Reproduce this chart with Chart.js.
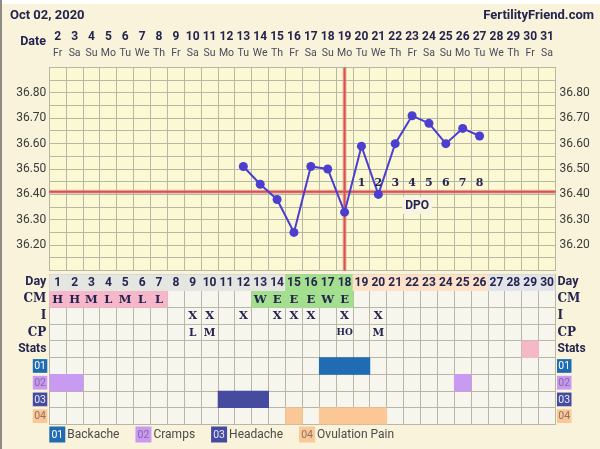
<!DOCTYPE html>
<html>
<head>
<meta charset="utf-8">
<script src="https://cdn.jsdelivr.net/npm/chart.js@4.4.1/dist/chart.umd.min.js"></script>
<style>
  html, body { margin: 0; padding: 0; background: #f8f3da; }
  #wrap { position: relative; width: 600px; height: 449px; overflow: hidden; background: #f8f3da; }
  #temp { position: absolute; left: 0; top: 0; }
  #table { position: absolute; left: 0; top: 274px; }
  #topstrip { position: absolute; left: 0; top: 0; width: 600px; height: 4px; background: #fff; }
  #leftedge { position: absolute; left: 0; top: 0; width: 2px; height: 449px; background: #8c8c84; }
</style>
</head>
<body>
<div id="wrap">
  <canvas id="temp" width="600" height="275"></canvas>
  <canvas id="table" width="600" height="175"></canvas>
  <div id="topstrip"></div>
  <div id="leftedge"></div>
</div>
<script>
// cycle days and the calendar header
const days = [1,2,3,4,5,6,7,8,9,10,11,12,13,14,15,16,17,18,19,20,21,22,23,24,25,26,27,28,29,30];
const dates = [2,3,4,5,6,7,8,9,10,11,12,13,14,15,16,17,18,19,20,21,22,23,24,25,26,27,28,29,30,31];
const weekdays = ['Fr','Sa','Su','Mo','Tu','We','Th','Fr','Sa','Su','Mo','Tu','We','Th','Fr',
                  'Sa','Su','Mo','Tu','We','Th','Fr','Sa','Su','Mo','Tu','We','Th','Fr','Sa'];

// BBT readings (null = no reading)
const temps = [null,null,null,null,null,null,null,null,null,null,null,
               36.51,36.44,36.38,36.25,36.51,36.50,36.33,36.59,36.40,36.60,36.71,36.68,36.60,36.66,36.63,
               null,null,null,null];
const tempLabels = [36.20, 36.30, 36.40, 36.50, 36.60, 36.70, 36.80];
const coverline = 36.41;
const ovulationDay = 18;
const dpoLabels = ['1','2','3','4','5','6','7','8'];

// table rows
const rowNames = ['Day','CM','I','CP','Stats','01','02','03','04'];
const fertileDays = [15,16,17,18];
const lutealDays = [19,20,21,22,23,24,25,26];
const futureDays = [27,28,29,30];
const cmCodes = ['H','H','M','L','M','L','L','','','','','','W','E','E','E','W','E','','','','','','','','','','','',''];
const intercourseDays = [9,10,12,14,15,16,18,20];
const cpDays = [9,10,18,20];
const cpCodes = ['L','M','HO','M'];
const statsDays = [29];
const symptomNames = ['Backache','Cramps','Headache','Ovulation Pain'];
const symptomDays = [[17,18,19],[1,2,25],[11,12,13],[15,17,18,19,20]];

const navy = '#24244f';
const gridCol = '#b9b7a4';
const symptomColors = ['#1f6cb3','#c99af2','#474b9f','#fcc797'];
const symptomText = ['#ffffff','#85689f','#e9e9ff','#8a7464'];

function colPx(scale, d) { return scale.getPixelForValue(days.indexOf(d)); }

const tempDecor = {
  id: 'tempDecor',
  beforeDraw(chart) {
    const {ctx, chartArea: a} = chart;
    ctx.save();
    ctx.fillStyle = '#fbf8d4';
    ctx.fillRect(a.left, a.top, a.right - a.left, a.bottom - a.top);
    ctx.restore();
  },
  beforeDatasetsDraw(chart) {
    const {ctx, chartArea: a, scales: {x, y}} = chart;
    const cy = y.getPixelForValue(coverline);
    const ox = colPx(x, ovulationDay);
    ctx.save();
    ctx.strokeStyle = 'rgba(226,140,140,0.6)';
    ctx.lineWidth = 4;
    ctx.beginPath();
    ctx.moveTo(a.left, cy); ctx.lineTo(a.right, cy);
    ctx.moveTo(ox, a.top); ctx.lineTo(ox, a.bottom);
    ctx.stroke();
    ctx.strokeStyle = '#d6534f';
    ctx.lineWidth = 2;
    ctx.beginPath();
    ctx.moveTo(a.left, cy); ctx.lineTo(a.right, cy);
    ctx.moveTo(ox, a.top); ctx.lineTo(ox, a.bottom);
    ctx.stroke();
    ctx.restore();
  },
  afterDraw(chart) {
    const {ctx, chartArea: a, scales: {x, y}} = chart;
    ctx.save();
    ctx.fillStyle = navy;
    ctx.textBaseline = 'middle';
    ctx.font = 'bold 13px Roboto';
    ctx.textAlign = 'left';
    ctx.fillText('Oct 02, 2020', 10, 16);
    ctx.textAlign = 'right';
    ctx.fillText('FertilityFriend.com', 594, 16);
    ctx.font = 'bold 12.5px Roboto';
    ctx.fillText('Date', 46, 42);

    ctx.textAlign = 'center';
    days.forEach((d, i) => {
      const px = colPx(x, d);
      ctx.fillStyle = navy;
      ctx.font = 'bold 12px Roboto';
      ctx.fillText(String(dates[i]), px, 37);
      ctx.fillStyle = '#4a4a5a';
      ctx.font = '10.5px Roboto';
      ctx.fillText(weekdays[i], px, 53.5);
    });

    // temperature labels on both sides
    ctx.font = '12px Roboto';
    ctx.fillStyle = '#3a3a3a';
    tempLabels.forEach(t => {
      const py = y.getPixelForValue(t);
      ctx.textAlign = 'right';
      ctx.fillText(t.toFixed(2), a.left - 3, py);
      ctx.textAlign = 'left';
      ctx.fillText(t.toFixed(2), a.right + 4, py);
    });

    // days past ovulation
    const cy = y.getPixelForValue(coverline);
    ctx.textAlign = 'center';
    ctx.fillStyle = navy;
    ctx.font = 'bold 11px "DejaVu Serif"';
    dpoLabels.forEach((lab, i) => {
      ctx.fillText(lab, colPx(x, ovulationDay + 1 + i), cy - 9);
    });
    const colW = colPx(x, 2) - colPx(x, 1);
    const dx = colPx(x, 22) + colW * 0.3;
    ctx.fillStyle = '#f7f4e2';
    ctx.fillRect(dx - 15, cy + 5, 30, 17);
    ctx.fillStyle = navy;
    ctx.font = 'bold 12px Roboto';
    ctx.fillText('DPO', dx, cy + 14);
    ctx.restore();
  }
};

new Chart(document.getElementById('temp'), {
  type: 'line',
  data: {
    labels: days,
    datasets: [{
      data: temps,
      borderColor: '#4c3fcf',
      backgroundColor: '#4c3fcf',
      borderWidth: 2,
      pointRadius: 4.5,
      pointBorderWidth: 0,
      tension: 0
    }]
  },
  options: {
    responsive: false,
    animation: false,
    layout: { padding: 0 },
    plugins: { legend: { display: false }, tooltip: { enabled: false } },
    scales: {
      x: {
        type: 'category', position: 'top', offset: true,
        grid: { offset: true, color: gridCol, drawTicks: false },
        border: { display: false },
        ticks: { display: false },
        afterFit: s => { s.height = 67.5; }
      },
      y: {
        min: 36.1, max: 36.9,
        ticks: { display: false, stepSize: 0.05 },
        grid: { color: gridCol, drawTicks: false },
        border: { color: gridCol },
        afterFit: s => { s.width = 49.3; }
      },
      y2: {
        position: 'right', min: 36.1, max: 36.9,
        ticks: { display: false },
        grid: { display: false },
        border: { color: gridCol },
        afterFit: s => { s.width = 44.5; }
      }
    }
  },
  plugins: [tempDecor]
});

// table cells as floating bars spanning one row each
function cells(dayList, row) { return dayList.map(d => ({ x: d, y: [row, row + 1] })); }
const phaseColor = d => fertileDays.includes(d) ? '#a4df8f' : lutealDays.includes(d) ? '#fde2c9' : futureDays.includes(d) ? '#e3e3ea' : '#e5e5e2';
const cmDays = days.filter((d, i) => cmCodes[i] !== '');

const tableDatasets = [
  { data: cells(days, 0), backgroundColor: days.map(phaseColor) },
  { data: cells(cmDays, 1), backgroundColor: cmDays.map(d => 'HML'.includes(cmCodes[d - 1]) ? '#f5b7c9' : '#a4df8f') },
  { data: cells(statsDays, 4), backgroundColor: '#f4b8c6' }
];
symptomDays.forEach((list, k) => {
  tableDatasets.push({ data: cells(list, 5 + k), backgroundColor: symptomColors[k] });
});

const tableDecor = {
  id: 'tableDecor',
  beforeDraw(chart) {
    const {ctx, chartArea: a} = chart;
    ctx.save();
    ctx.fillStyle = '#f6f5ee';
    ctx.fillRect(a.left, a.top, a.right - a.left, a.bottom - a.top);
    ctx.restore();
  },
  afterDraw(chart) {
    const {ctx, chartArea: a, scales: {x, y}} = chart;
    const rowY = r => (y.getPixelForValue(r) + y.getPixelForValue(r + 1)) / 2;
    const rowH = Math.abs(y.getPixelForValue(1) - y.getPixelForValue(0));
    ctx.save();
    ctx.textBaseline = 'middle';
    ctx.textAlign = 'center';
    ctx.fillStyle = navy;

    ctx.font = 'bold 12px Roboto';
    days.forEach(d => ctx.fillText(String(d), colPx(x, d), rowY(0) + 0.5));

    ctx.font = 'bold 11.5px "DejaVu Serif"';
    days.forEach((d, i) => { if (cmCodes[i]) ctx.fillText(cmCodes[i], colPx(x, d), rowY(1) + 0.5); });
    intercourseDays.forEach(d => ctx.fillText('X', colPx(x, d), rowY(2) + 0.5));
    cpDays.forEach((d, i) => {
      ctx.font = cpCodes[i].length > 1 ? 'bold 9px "DejaVu Serif"' : 'bold 10.5px "DejaVu Serif"';
      ctx.fillText(cpCodes[i], colPx(x, d), rowY(3) + 0.5);
    });

    // row labels, left and right
    const labelFonts = ['bold 12.5px Roboto','bold 12px "DejaVu Serif"','bold 12px "DejaVu Serif"','bold 12px "DejaVu Serif"','bold 12px Roboto'];
    for (let r = 0; r < 5; r++) {
      ctx.font = labelFonts[r];
      ctx.fillStyle = navy;
      ctx.textAlign = 'right';
      ctx.fillText(rowNames[r], a.left - 3, rowY(r));
      ctx.textAlign = 'left';
      ctx.fillText(rowNames[r], a.right + 2, rowY(r));
    }
    ctx.font = '10.5px Roboto';
    ctx.textAlign = 'center';
    for (let k = 0; k < 4; k++) {
      const cy = rowY(5 + k);
      [a.left - 16.5, a.right + 1.5].forEach(bx => {
        ctx.fillStyle = symptomColors[k];
        ctx.fillRect(bx, cy - rowH / 2 + 1.5, 14.5, rowH - 3);
        ctx.fillStyle = symptomText[k];
        ctx.fillText(rowNames[5 + k], bx + 7.25, cy + 0.5);
      });
    }

    // legend
    let lx = a.left;
    const ly = a.bottom + 10;
    for (let k = 0; k < 4; k++) {
      ctx.fillStyle = symptomColors[k];
      ctx.fillRect(lx, ly - 8, 16, 16);
      ctx.fillStyle = symptomText[k];
      ctx.font = '10.5px Roboto';
      ctx.textAlign = 'center';
      ctx.fillText(rowNames[5 + k], lx + 8, ly + 0.5);
      ctx.fillStyle = '#4a4a4a';
      ctx.font = '12px Roboto';
      ctx.textAlign = 'left';
      ctx.fillText(symptomNames[k], lx + 18, ly);
      lx += 18 + ctx.measureText(symptomNames[k]).width + 16;
    }
    ctx.restore();
  }
};

new Chart(document.getElementById('table'), {
  type: 'bar',
  data: { labels: days, datasets: tableDatasets },
  options: {
    responsive: false,
    animation: false,
    layout: { padding: 0 },
    plugins: { legend: { display: false }, tooltip: { enabled: false } },
    datasets: { bar: { grouped: false, categoryPercentage: 1, barPercentage: 1, borderWidth: 0 } },
    scales: {
      x: {
        type: 'category', position: 'bottom', offset: true, z: 1,
        grid: { offset: true, color: gridCol, drawTicks: false },
        border: { display: false },
        ticks: { display: false },
        afterFit: s => { s.height = 24.5; }
      },
      y: {
        min: 0, max: 9, reverse: true, z: 1,
        ticks: { display: false, stepSize: 1 },
        grid: { color: gridCol, drawTicks: false },
        border: { color: gridCol },
        afterFit: s => { s.width = 49.3; }
      },
      y2: {
        position: 'right', min: 0, max: 9, z: 1,
        ticks: { display: false },
        grid: { display: false },
        border: { color: gridCol },
        afterFit: s => { s.width = 44.5; }
      }
    }
  },
  plugins: [tableDecor]
});
</script>
</body>
</html>
